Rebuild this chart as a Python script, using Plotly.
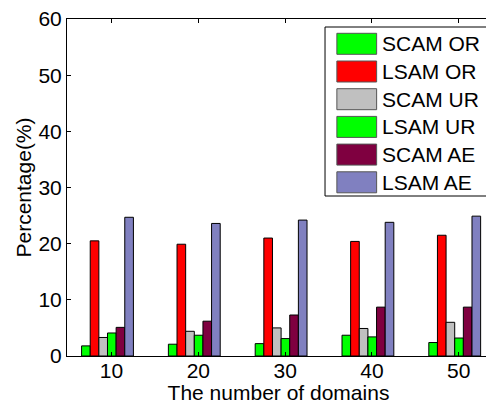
import plotly.graph_objects as go

categories = ["10", "20", "30", "40", "50"]
positions = [1, 2, 3, 4, 5]
series_names = ["SCAM OR", "LSAM OR", "SCAM UR", "LSAM UR", "SCAM AE", "LSAM AE"]
scam_or = [1.8, 2.1, 2.2, 3.7, 2.4]
lsam_or = [20.5, 19.9, 21.0, 20.4, 21.5]
scam_ur = [3.3, 4.4, 5.0, 4.9, 6.0]
lsam_ur = [4.1, 3.7, 3.1, 3.4, 3.2]
scam_ae = [5.1, 6.2, 7.3, 8.7, 8.7]
lsam_ae = [24.7, 23.6, 24.2, 23.8, 24.9]
y_ticks = [0, 10, 20, 30, 40, 50, 60]

colors = ["#00FF00", "#FF0000", "#C0C0C0", "#00FF00", "#7F0040", "#8080C0"]
series = [scam_or, lsam_or, scam_ur, lsam_ur, scam_ae, lsam_ae]

FONT = "Liberation Sans, Arial, Helvetica, sans-serif"
fig = go.Figure()
bar_w = 0.0995
start = -0.345
for k, (name, vals, col) in enumerate(zip(series_names, series, colors)):
    fig.add_trace(go.Bar(
        x=positions, y=vals, name=name,
        marker=dict(color=col, line=dict(color="#000000", width=1)),
        width=bar_w, offset=start + k * bar_w,
        showlegend=False,
    ))

# manual legend (MATLAB style big swatches)
PH = 337.0
lx0, lx1 = 0.61, 1.0
ly1, ly0 = (356 - 27) / PH, (356 - 196) / PH
fig.add_shape(type="rect", xref="paper", yref="paper", x0=lx0, x1=lx1, y0=ly0, y1=ly1,
              line=dict(color="black", width=1), fillcolor="white", layer="above")
row_h = 27.7 / PH
first_c = (356 - 43.8) / PH
sw_h = 21 / PH
for k, (name, col) in enumerate(zip(series_names, colors)):
    cy = first_c - k * row_h
    fig.add_shape(type="rect", xref="paper", yref="paper",
                  x0=0.638, x1=0.732, y0=cy - sw_h / 2, y1=cy + sw_h / 2,
                  line=dict(color="#555555", width=1), fillcolor=col, layer="above")
    fig.add_annotation(xref="paper", yref="paper", x=0.741, y=cy, text=name,
                       showarrow=False, xanchor="left", yanchor="middle",
                       font=dict(family=FONT, size=21, color="black"))

# page body has an 8px default margin, so the figure is 8px smaller and margins shifted
fig.update_layout(
    barmode="overlay",
    width=486, height=396,
    margin=dict(l=59, r=4, t=11, b=48, autoexpand=False),
    paper_bgcolor="white", plot_bgcolor="white",
    font=dict(family=FONT, size=21, color="black"),
    xaxis=dict(range=[0.487, 5.36], tickmode="array", tickvals=positions, ticktext=categories,
               ticks="inside", ticklen=4, tickcolor="black", showline=True, linecolor="black",
               linewidth=1, mirror="ticks", showgrid=False, zeroline=False,
               ticklabelstandoff=-4, automargin=False, ticklabeloverflow="allow",
               title=dict(text="The number of domains", standoff=6,
                          font=dict(family=FONT, size=21))),
    yaxis=dict(range=[0, 60], tickmode="array", tickvals=y_ticks,
               ticks="inside", ticklen=4, tickcolor="black", showline=True, linecolor="black",
               linewidth=1, mirror="ticks", showgrid=False, zeroline=False, automargin=False,
               ticklabeloverflow="allow",
               title=dict(text="Percentage(%)", standoff=1,
                          font=dict(family=FONT, size=21))),
)

fig.write_html("out.html")
